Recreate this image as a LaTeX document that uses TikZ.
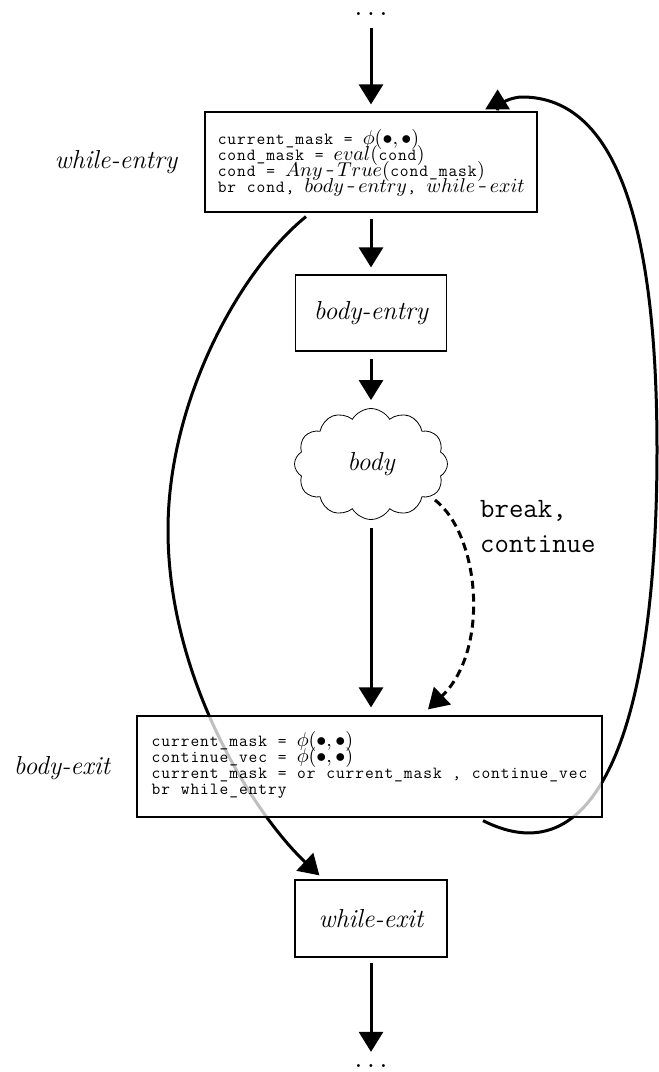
\documentclass[tikz,border=0pt]{standalone}
\DeclareFontFamily{OML}{cmm}{\skewchar\font'177}
\DeclareFontShape{OML}{cmm}{m}{it}{<->cmmi10}{}
\DeclareFontFamily{OMS}{cmsy}{\skewchar\font'60}
\DeclareFontShape{OMS}{cmsy}{m}{n}{<->cmsy10}{}
\DeclareFontFamily{OT1}{cmr}{\hyphenchar\font45}
\DeclareFontShape{OT1}{cmr}{m}{n}{<->cmr10}{}
\usetikzlibrary{arrows.meta,shapes.symbols,calc,backgrounds}
\ExplSyntaxOn
\NewDocumentCommand\cb{m}{\smash{\fontsize{17}{16}\selectfont\ttfamily\str_map_inline:nn{#1}{\makebox[9.7pt]{##1}}}}
\ExplSyntaxOff
\newcommand\mth[1]{\smash{$#1$}}
\newcommand\hy{\smash{\makebox[14.5pt]{\fontsize{17}{16}\selectfont\ttfamily -}}}
\begin{document}
\begin{tikzpicture}[x=1pt,y=-1pt,
  arr/.style={line width=3pt,-{Triangle[length=20pt,width=24pt]}},
  blk/.style={draw,line width=1.2pt,fill=white,fill opacity=0.75,text opacity=1,inner sep=0pt},
  itl/.style={font=\fontsize{26}{31}\selectfont\itshape},
  code/.style={blk,font=\fontsize{20}{16}\selectfont,align=left},
  dotsn/.style={inner sep=0pt,anchor=base,font=\fontsize{28}{30}\selectfont}]
\useasboundingbox (0,0) rectangle (659,1072);
\node[dotsn] (td) at (371,15) {$\ldots$};
\node[code,minimum width=332,minimum height=100] (we) at (371,162) {\begin{tabular}{@{}l@{}}
\rule{0pt}{17.2pt}\cb{current_mask = }\mth{\phi(\bullet,\bullet)}\\
\cb{cond_mask = }\mth{eval(}\cb{cond}\mth{)}\\
\cb{cond = }\mth{Any}\hy\mth{True(}\cb{cond_mask}\mth{)}\\
\cb{br cond, }\mth{body}\hy\mth{entry}\cb{, }\mth{while}\hy\mth{exit}
\end{tabular}};
\node[itl] (lwe) at (116,162) {while-entry};
\node[blk,itl,minimum width=151,minimum height=76] (bent) at (371,313) {body-entry};
\node[draw,cloud,cloud puffs=12,cloud puff arc=120,aspect=1.4,minimum width=153,minimum height=111,line width=0.8pt,itl,inner sep=0pt] (cl) at (371,464) {body};
\node[code,minimum width=465,minimum height=101] (be) at (369.5,766.5) {\begin{tabular}{@{}l@{}}
\rule{0pt}{13.2pt}\cb{current_mask = }\mth{\phi(\bullet,\bullet)}\\
\cb{continue_vec = }\mth{\phi(\bullet,\bullet)}\\
\cb{current_mask = or current_mask , continue_vec}\\
\cb{br while_entry}
\end{tabular}};
\node[itl] (lbe) at (62,768) {body-exit};
\node[blk,itl,minimum width=152,minimum height=77] (wx) at (371,918.5) {while-exit};
\node[dotsn] (bd) at (371,1067.5) {$\ldots$};
\node[anchor=north west,inner sep=0pt,align=left,font=\fontsize{28}{35}\selectfont\ttfamily] (bc) at (480,500) {break,\\continue};
\draw[arr,shorten <=13pt,shorten >=7pt] (td) -- (we);
\draw[arr,shorten <=6pt,shorten >=7pt] (we) -- (bent);
\draw[arr,shorten <=7pt,shorten >=8pt] (bent) -- (cl);
\draw[arr,shorten <=8pt,shorten >=8pt] (cl.south) -- (cl.south |- be.north);
\draw[arr,shorten <=5pt,shorten >=12.5pt] (wx) -- (bd);
\draw[arr,dash pattern=on 8pt off 5pt] ($(cl.center)+(64,36)$) .. controls (480,535) and (490,650) .. ($(be.north)+(58.5,-6)$);
\begin{scope}[on background layer]
\draw[arr] ([xshift=-65pt,yshift=-4pt]we.south) .. controls (240,270) and (168,400) .. (168,530) .. controls (168,680) and (255,815) .. ([xshift=25pt,yshift=4pt]wx.north west);
\draw[arr] ([xshift=113.5pt,yshift=-3pt]be.south) .. controls (600,880) and (657,720) .. (657,450) .. controls (657,250) and (625,95) .. (520,97) .. controls (505,99) and (497,105) .. ([xshift=-40pt,yshift=1pt]we.north east) -- ([xshift=-40pt,yshift=22pt]we.north east);
\end{scope}
\end{tikzpicture}
\end{document}
